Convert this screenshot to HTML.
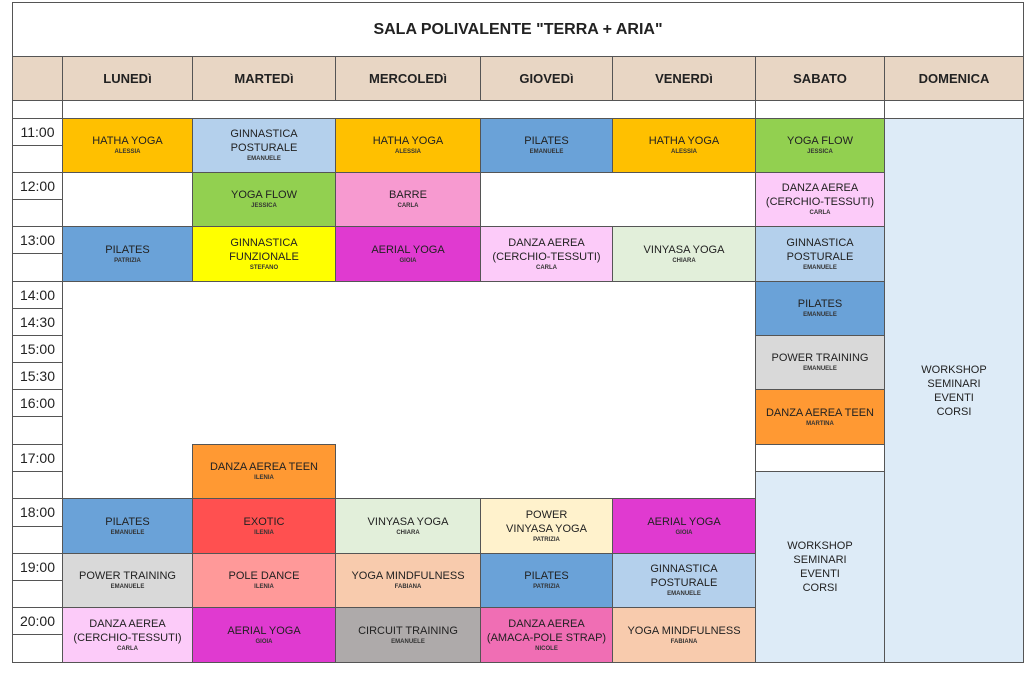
<!DOCTYPE html>
<html><head><meta charset="utf-8"><style>
body{margin:0;width:1024px;height:685px;background:#fff;position:relative;font-family:"Liberation Sans",sans-serif;overflow:hidden}
div.b{position:absolute;box-sizing:border-box;border:1px solid #555;display:flex;flex-direction:column;align-items:center;justify-content:center;text-align:center;color:#222;font-size:11px;line-height:14px}
div.b small{font-size:6px;line-height:9px;font-weight:bold;color:#333}
div.b.h{background:#e8d6c4;font-weight:bold;font-size:13px}
div.b.t{font-size:14px;justify-content:flex-start;padding-top:5px;line-height:16px}
</style></head><body>
<div class="b" style="left:12px;top:2px;width:1012px;height:55px;font-weight:bold;font-size:16px">SALA POLIVALENTE "TERRA + ARIA"</div>
<div class="b h" style="left:12px;top:56px;width:51px;height:45px"></div>
<div class="b h" style="left:62px;top:56px;width:131px;height:45px">LUNEDì</div>
<div class="b h" style="left:192px;top:56px;width:144px;height:45px">MARTEDì</div>
<div class="b h" style="left:335px;top:56px;width:146px;height:45px">MERCOLEDì</div>
<div class="b h" style="left:480px;top:56px;width:133px;height:45px">GIOVEDì</div>
<div class="b h" style="left:612px;top:56px;width:144px;height:45px">VENERDì</div>
<div class="b h" style="left:755px;top:56px;width:130px;height:45px">SABATO</div>
<div class="b h" style="left:884px;top:56px;width:140px;height:45px">DOMENICA</div>
<div class="b" style="left:12px;top:100px;width:51px;height:19px"></div>
<div class="b" style="left:62px;top:100px;width:694px;height:19px"></div>
<div class="b" style="left:755px;top:100px;width:130px;height:19px"></div>
<div class="b" style="left:884px;top:100px;width:140px;height:19px"></div>
<div class="b t" style="left:12px;top:118px;width:51px;height:28px">11:00</div>
<div class="b" style="left:12px;top:145px;width:51px;height:28px"></div>
<div class="b t" style="left:12px;top:172px;width:51px;height:28px">12:00</div>
<div class="b" style="left:12px;top:199px;width:51px;height:28px"></div>
<div class="b t" style="left:12px;top:226px;width:51px;height:28px">13:00</div>
<div class="b" style="left:12px;top:253px;width:51px;height:29px"></div>
<div class="b t" style="left:12px;top:281px;width:51px;height:28px">14:00</div>
<div class="b t" style="left:12px;top:308px;width:51px;height:28px">14:30</div>
<div class="b t" style="left:12px;top:335px;width:51px;height:28px">15:00</div>
<div class="b t" style="left:12px;top:362px;width:51px;height:28px">15:30</div>
<div class="b t" style="left:12px;top:389px;width:51px;height:28px">16:00</div>
<div class="b" style="left:12px;top:416px;width:51px;height:29px"></div>
<div class="b t" style="left:12px;top:444px;width:51px;height:28px">17:00</div>
<div class="b" style="left:12px;top:471px;width:51px;height:28px"></div>
<div class="b t" style="left:12px;top:498px;width:51px;height:29px">18:00</div>
<div class="b" style="left:12px;top:526px;width:51px;height:28px"></div>
<div class="b t" style="left:12px;top:553px;width:51px;height:28px">19:00</div>
<div class="b" style="left:12px;top:580px;width:51px;height:28px"></div>
<div class="b t" style="left:12px;top:607px;width:51px;height:28px">20:00</div>
<div class="b" style="left:12px;top:634px;width:51px;height:29px"></div>
<div class="b" style="left:62px;top:118px;width:694px;height:545px;z-index:-1"></div>
<div class="b" style="left:755px;top:444px;width:130px;height:28px"></div>
<div class="b" style="left:62px;top:118px;width:131px;height:55px;background:#ffc000">HATHA YOGA<small>ALESSIA</small></div>
<div class="b" style="left:192px;top:118px;width:144px;height:55px;background:#b4d0ec">GINNASTICA<br>POSTURALE<small>EMANUELE</small></div>
<div class="b" style="left:335px;top:118px;width:146px;height:55px;background:#ffc000">HATHA YOGA<small>ALESSIA</small></div>
<div class="b" style="left:480px;top:118px;width:133px;height:55px;background:#6aa2d8">PILATES<small>EMANUELE</small></div>
<div class="b" style="left:612px;top:118px;width:144px;height:55px;background:#ffc000">HATHA YOGA<small>ALESSIA</small></div>
<div class="b" style="left:755px;top:118px;width:130px;height:55px;background:#92d050">YOGA FLOW<small>JESSICA</small></div>
<div class="b" style="left:192px;top:172px;width:144px;height:55px;background:#92d050">YOGA FLOW<small>JESSICA</small></div>
<div class="b" style="left:335px;top:172px;width:146px;height:55px;background:#f79ad0">BARRE<small>CARLA</small></div>
<div class="b" style="left:755px;top:172px;width:130px;height:55px;background:#fccbf9">DANZA AEREA<br>(CERCHIO-TESSUTI)<small>CARLA</small></div>
<div class="b" style="left:62px;top:226px;width:131px;height:56px;background:#6aa2d8">PILATES<small>PATRIZIA</small></div>
<div class="b" style="left:192px;top:226px;width:144px;height:56px;background:#ffff00">GINNASTICA<br>FUNZIONALE<small>STEFANO</small></div>
<div class="b" style="left:335px;top:226px;width:146px;height:56px;background:#e03ad0">AERIAL YOGA<small>GIOIA</small></div>
<div class="b" style="left:480px;top:226px;width:133px;height:56px;background:#fccbf9">DANZA AEREA<br>(CERCHIO-TESSUTI)<small>CARLA</small></div>
<div class="b" style="left:612px;top:226px;width:144px;height:56px;background:#e2efda">VINYASA YOGA<small>CHIARA</small></div>
<div class="b" style="left:755px;top:226px;width:130px;height:56px;background:#b4d0ec">GINNASTICA<br>POSTURALE<small>EMANUELE</small></div>
<div class="b" style="left:755px;top:281px;width:130px;height:55px;background:#6aa2d8">PILATES<small>EMANUELE</small></div>
<div class="b" style="left:755px;top:335px;width:130px;height:55px;background:#d9d9d9">POWER TRAINING<small>EMANUELE</small></div>
<div class="b" style="left:755px;top:389px;width:130px;height:56px;background:#ff9933">DANZA AEREA TEEN<small>MARTINA</small></div>
<div class="b" style="left:192px;top:444px;width:144px;height:55px;background:#ff9933">DANZA AEREA TEEN<small>ILENIA</small></div>
<div class="b" style="left:62px;top:498px;width:131px;height:56px;background:#6aa2d8">PILATES<small>EMANUELE</small></div>
<div class="b" style="left:192px;top:498px;width:144px;height:56px;background:#ff5050">EXOTIC<small>ILENIA</small></div>
<div class="b" style="left:335px;top:498px;width:146px;height:56px;background:#e2efda">VINYASA YOGA<small>CHIARA</small></div>
<div class="b" style="left:480px;top:498px;width:133px;height:56px;background:#fff2cc">POWER<br>VINYASA YOGA<small>PATRIZIA</small></div>
<div class="b" style="left:612px;top:498px;width:144px;height:56px;background:#e03ad0">AERIAL YOGA<small>GIOIA</small></div>
<div class="b" style="left:62px;top:553px;width:131px;height:55px;background:#d9d9d9">POWER TRAINING<small>EMANUELE</small></div>
<div class="b" style="left:192px;top:553px;width:144px;height:55px;background:#ff9999">POLE DANCE<small>ILENIA</small></div>
<div class="b" style="left:335px;top:553px;width:146px;height:55px;background:#f8cbad">YOGA MINDFULNESS<small>FABIANA</small></div>
<div class="b" style="left:480px;top:553px;width:133px;height:55px;background:#6aa2d8">PILATES<small>PATRIZIA</small></div>
<div class="b" style="left:612px;top:553px;width:144px;height:55px;background:#b4d0ec">GINNASTICA<br>POSTURALE<small>EMANUELE</small></div>
<div class="b" style="left:62px;top:607px;width:131px;height:56px;background:#fccbf9">DANZA AEREA<br>(CERCHIO-TESSUTI)<small>CARLA</small></div>
<div class="b" style="left:192px;top:607px;width:144px;height:56px;background:#e03ad0">AERIAL YOGA<small>GIOIA</small></div>
<div class="b" style="left:335px;top:607px;width:146px;height:56px;background:#aeaaaa">CIRCUIT TRAINING<small>EMANUELE</small></div>
<div class="b" style="left:480px;top:607px;width:133px;height:56px;background:#f06eb4">DANZA AEREA<br>(AMACA-POLE STRAP)<small>NICOLE</small></div>
<div class="b" style="left:612px;top:607px;width:144px;height:56px;background:#f8cbad">YOGA MINDFULNESS<small>FABIANA</small></div>
<div class="b" style="left:755px;top:471px;width:130px;height:192px;background:#ddebf7">WORKSHOP<br>SEMINARI<br>EVENTI<br>CORSI</div>
<div class="b" style="left:884px;top:118px;width:140px;height:545px;background:#ddebf7">WORKSHOP<br>SEMINARI<br>EVENTI<br>CORSI</div>
</body></html>
